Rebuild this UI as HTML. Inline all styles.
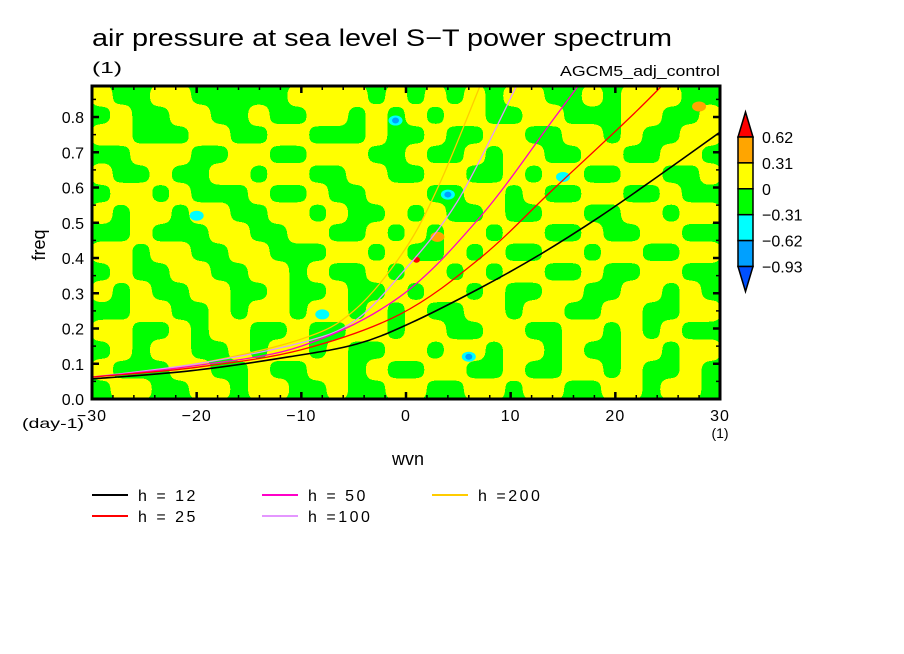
<!DOCTYPE html>
<html><head><meta charset="utf-8">
<style>
body{margin:0;background:#fff;}
svg{display:block;font-family:"Liberation Sans",sans-serif;}
</style></head>
<body>
<svg id="chart" width="904" height="654" viewBox="0 0 904 654">
<defs>
<filter id="blobs" x="0" y="0" width="100%" height="100%">
<feGaussianBlur stdDeviation="5"/>
<feComponentTransfer><feFuncA type="discrete" tableValues="0 1"/></feComponentTransfer>
</filter>
<clipPath id="plotclip"><rect x="92" y="86" width="628" height="313"/></clipPath>
</defs>
<text x="92" y="46" font-size="24" textLength="580" lengthAdjust="spacingAndGlyphs">air pressure at sea level S−T power spectrum</text>
<text x="92" y="73" font-size="16" textLength="30" lengthAdjust="spacingAndGlyphs">(1)</text>
<text x="560" y="76" font-size="15" textLength="160" lengthAdjust="spacingAndGlyphs">AGCM5_adj_control</text>
<g id="field" clip-path="url(#plotclip)"></g>
<g id="curves" clip-path="url(#plotclip)"></g>
<g id="axes"></g>
<g id="colorbar"></g>
<g id="legend"></g>
<text x="45" y="245" font-size="18" text-anchor="middle" transform="rotate(-90 45 245)">freq</text>
<text x="408" y="465" font-size="18" text-anchor="middle">wvn</text>
<text x="22" y="428" font-size="14" textLength="62" lengthAdjust="spacingAndGlyphs">(day-1)</text>
<text x="720" y="438" font-size="14" text-anchor="middle">(1)</text>
</svg>
<script>
const NS="http://www.w3.org/2000/svg";
// ---- data ----
const fieldRows=[
"YGGYYGGGGGYYYYGYGYGYGYYGGYGYYYGG",
"GYGGYYGGYGGYYGYGYGYYGGYYGGGYYGGY",
"YYGGGYYGGYYGGGYGGYGGYYGGYYGYGGYY",
"GGYYYGGYYGGYYYGGYGGYGYYGGYYGGYYG",
"YGGYGGYYGYYGGYYGGYYGGYGYYGGYYGGY",
"GYYGYGGGYGGYGGYYYGGYYGYGGYYGGYGG",
"YGYYGYYGGYYGYGGYGYGGYGGYYGGYYGYY",
"GGYGGGYYGGYYGGYGYGYYGYYGGYGGYYGG",
"YYGYYGGYYGGGYYGYGGYGYGGYYGYYGGYY",
"GYGGYYGGYYGYGGYGYYGYGYYGGYGGYYGG",
"YGYGGYYGGYGGYGGYGYYGYGGYYGGYYGYG",
"GGYYGGYGYYGYYGYGYGGYYGYYGGYYGGYY",
"YYGGYGYYGGYGGYYGYYGGYYGGYYGYGYGG",
"GYGYYGGYGYYGYGGYYGYYGYYGYGGYYGYY",
"YGGGYYGGYGGYYGYGGYYGGYGGYYGYGGYG",
"GYYGGYYGYYGGYGGYYGGYYGYYGGYYGYYG"];
const spotWvn=[-1,-1,4,4,6,6,1,28,-20,-8,3,15];
const spotFreq=[0.79,0.79,0.58,0.58,0.12,0.12,0.395,0.83,0.52,0.24,0.46,0.63];
const spotLevel=[-0.62,-0.93,-0.62,-0.93,-0.62,-0.93,0.62,0.31,-0.62,-0.62,0.31,-0.62];
const curveNames=["h = 12","h = 25","h = 50","h =100","h =200"];
const curveColors=["#000000","#ff0000","#ff00c8","#e496ff","#ffcc00"];
const c12W=[-30,-20.6,-11.1,-4.7,0.4,7.1,12.8,18.5,24,30];
const c12F=[0.057,0.08,0.12,0.156,0.215,0.315,0.41,0.517,0.63,0.757];
const c25W=[-30,-20,-10,-0.6,7.1,14,21.1,24.5];
const c25F=[0.062,0.09,0.14,0.24,0.40,0.593,0.79,0.89];
const c50W=[-30,-20,-10,-0.6,7.1,14,16.5];
const c50F=[0.062,0.095,0.15,0.29,0.517,0.79,0.89];
const c100W=[-30,-20,-10,-5,-0.6,4.9,10.6];
const c100F=[0.062,0.1,0.16,0.22,0.35,0.56,0.89];
const c200W=[-30,-20,-10,-5,-0.2,3.2,7.1];
const c200F=[0.062,0.1,0.17,0.25,0.42,0.61,0.89];
const xTicks=[-30,-20,-10,0,10,20,30];
const yTicks=[0,0.1,0.2,0.3,0.4,0.5,0.6,0.7,0.8];
const cbLevels=[0.62,0.31,0,-0.31,-0.62,-0.93];
const cbLabels=["0.62","0.31","0","−0.31","−0.62","−0.93"];
const cbColors=["#ff0000","#ffa500","#ffff00","#00ff00","#00ffff","#00a0ff","#0050ff"];
// ---- scales ----
const X0=92,X1=720,Y0=399,Y1=86;
const xs=w=>X0+(w+30)/60*(X1-X0);
const ys=f=>Y0-f/0.888*(Y0-Y1);
function el(t,a,p){const e=document.createElementNS(NS,t);for(const k in a)e.setAttribute(k,a[k]);p.appendChild(e);return e;}
// field
const field=document.getElementById('field');
const bg=el('rect',{x:X0,y:Y1,width:X1-X0,height:Y0-Y1,fill:'#00ff00'},field);


const yg=el('g',{filter:'url(#blobs)'},field);
const nr=fieldRows.length,nc=fieldRows[0].length;
const cw=(X1-X0)/nc,ch=(Y0-Y1)/nr;
fieldRows.forEach((row,r)=>{for(let c=0;c<nc;c++){if(row[c]==='Y'){
 const cell=el('rect',{x:X0+c*cw-1,y:Y1+r*ch-1,width:cw+2,height:ch+2,fill:'#ffff00'},yg);
 
 }}});
function levelColor(v){if(v>=0.62)return cbColors[0];if(v>=0.31)return cbColors[1];if(v>=0)return cbColors[2];if(v>=-0.31)return cbColors[3];if(v>=-0.62)return cbColors[4];if(v>=-0.93)return cbColors[5];return cbColors[6];}
spotWvn.forEach((w,i)=>{
 const big=spotLevel[i]===-0.62||spotLevel[i]===0.31;
 const s=el('ellipse',{cx:xs(w),cy:ys(spotFreq[i]),rx:big?7:3.5,ry:big?5:3,fill:levelColor(spotLevel[i]>=0?spotLevel[i]:spotLevel[i]+0.001)},field);
 
 
});
// curves (Catmull-Rom smoothing)
function smoothPath(P){let d='M'+P[0][0].toFixed(1)+' '+P[0][1].toFixed(1);
 for(let i=0;i<P.length-1;i++){const p0=P[i-1]||P[i],p1=P[i],p2=P[i+1],p3=P[i+2]||P[i+1];
  const c1=[p1[0]+(p2[0]-p0[0])/6,p1[1]+(p2[1]-p0[1])/6],c2=[p2[0]-(p3[0]-p1[0])/6,p2[1]-(p3[1]-p1[1])/6];
  d+=' C'+c1[0].toFixed(1)+' '+c1[1].toFixed(1)+' '+c2[0].toFixed(1)+' '+c2[1].toFixed(1)+' '+p2[0].toFixed(1)+' '+p2[1].toFixed(1);}
 return d;}
const curves=document.getElementById('curves');
const cw_=[c12W,c25W,c50W,c100W,c200W],cf_=[c12F,c25F,c50F,c100F,c200F];
[4,3,2,1,0].forEach(i=>{
 const pts=cw_[i].map((w,j)=>[xs(w),ys(cf_[i][j])]);
 const p=el('path',{d:smoothPath(pts),fill:'none',stroke:curveColors[i],'stroke-width':i===0?1.6:1.3},curves);
 
 
});
// axes
const axes=document.getElementById('axes');
const fr=el('rect',{x:X0,y:Y1,width:X1-X0,height:Y0-Y1,fill:'none',stroke:'#000','stroke-width':3},axes);


for(let w=-30;w<=30;w+=2){const maj=(w%10===0);const L=maj?7:4;const x=xs(w);
 el('line',{x1:x,y1:Y0,x2:x,y2:Y0-L,stroke:'#000','stroke-width':maj?2.5:1.5},axes);
 el('line',{x1:x,y1:Y1,x2:x,y2:Y1+L,stroke:'#000','stroke-width':maj?2.5:1.5},axes);}
for(let k=0;k<=17;k++){const f=k*0.05;const maj=k%2===0;const L=maj?7:4;const y=ys(f);
 el('line',{x1:X0,y1:y,x2:X0+L,y2:y,stroke:'#000','stroke-width':maj?2.5:1.5},axes);
 el('line',{x1:X1,y1:y,x2:X1-L,y2:y,stroke:'#000','stroke-width':maj?2.5:1.5},axes);}
xTicks.forEach(w=>{const t=el('text',{x:xs(w),y:421,'font-size':16,'text-anchor':'middle','letter-spacing':1},axes);t.textContent=(w<0?'−':'')+Math.abs(w);
 
 });
yTicks.forEach(f=>{const t=el('text',{x:84,y:ys(f)+6,'font-size':16,'text-anchor':'end'},axes);t.textContent=f.toFixed(1);
 
 });
// colorbar
const cb=document.getElementById('colorbar');
const bx=738,bw=15,yTop=137,step=25.9,tip=25;
const tri1=el('polygon',{points:`${bx},${yTop} ${bx+bw},${yTop} ${bx+bw/2},${yTop-tip}`,fill:cbColors[0],stroke:'#000','stroke-width':1.5},cb);


for(let i=0;i<5;i++){const r=el('rect',{x:bx,y:yTop+i*step,width:bw,height:step,fill:cbColors[i+1],stroke:'#000','stroke-width':1.5},cb);
 
 }
const yb=yTop+5*step;
const tri2=el('polygon',{points:`${bx},${yb} ${bx+bw},${yb} ${bx+bw/2},${yb+tip}`,fill:cbColors[6],stroke:'#000','stroke-width':1.5},cb);


cbLevels.forEach((v,i)=>{const t=el('text',{x:762,y:yTop+i*step+6,'font-size':16},cb);t.textContent=cbLabels[i];
 
 });
// legend
const lg=document.getElementById('legend');
const lx=[92,92,262,262,432],ly=[495,516,495,516,495];
curveNames.forEach((n,i)=>{
 const l=el('line',{x1:lx[i],y1:ly[i],x2:lx[i]+36,y2:ly[i],stroke:curveColors[i],'stroke-width':2},lg);
 
 
 const t=el('text',{x:lx[i]+46,y:ly[i]+6,'font-size':16,'letter-spacing':2.5},lg);t.textContent=n;
 
 
});
</script>
</body></html>
